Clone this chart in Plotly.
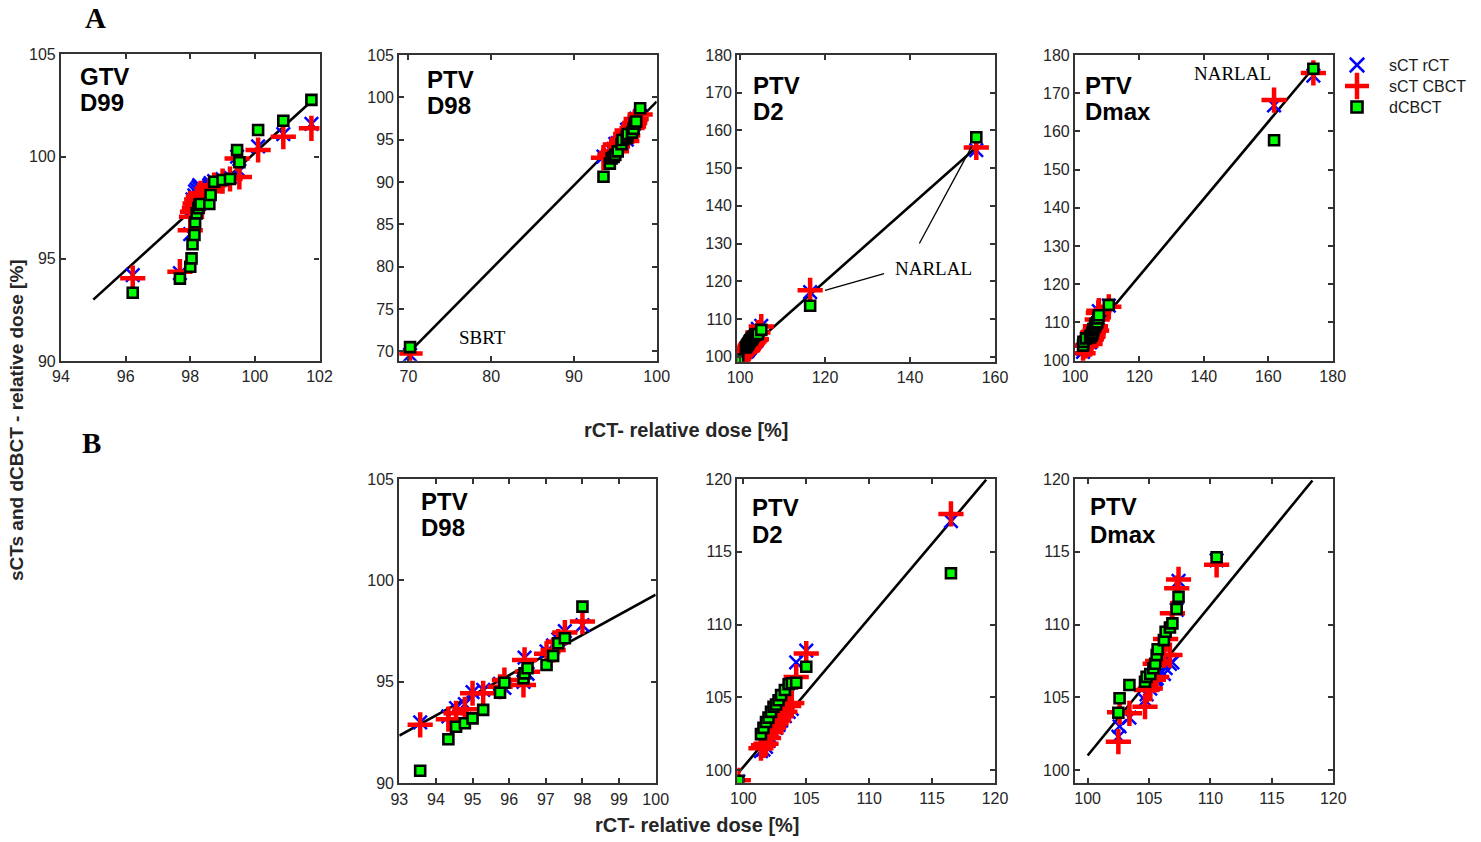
import plotly.graph_objects as go

W, H = 1481, 842


def fx(px):
    """Page x pixel -> paper fraction."""
    return px / W


def fy(py):
    """Page y pixel (from top) -> paper fraction."""
    return 1 - py / H


# ---------------- data ----------------
# GTV D99: rCT dose (x) and the three comparison doses (y)
d99_rct = [96.22, 97.68, 98.0, 98.04, 98.07, 98.13, 98.15, 98.2, 98.25, 98.28, 98.32,
           98.59, 98.63, 98.74, 99.0, 99.23, 99.52, 99.45, 100.1, 100.88, 101.75]
d99_sct_rct = [94.2, 94.3, 96.2, 97.4, 97.9, 98.1, 98.3, 98.4, 98.5, 98.6, 98.5,
               98.6, 98.7, 98.8, 98.9, 99.0, 99.3, 100.0, 100.5, 101.1, 101.6]
d99_sct_cbct = [94.05, 94.37, 96.4, 97.06, 97.3, 97.5, 97.7, 97.9, 98.0, 98.1, 98.2,
                98.3, 98.4, 98.6, 98.8, 98.9, 99.0, 99.9, 100.32, 100.97, 101.38]
d99_dcbct = [93.34, 94.03, 94.61, 95.02, 95.71, 96.16, 96.78, 97.22, 97.47, 97.63, 97.68,
             97.68, 98.12, 98.77, 98.85, 98.9, 99.72, 100.32, 101.3, 101.75, 102.77]
d99_fit_x = [95.0, 101.75]
d99_fit_y = [93.0, 102.7]

# PTV D98 (conventional patients)
d98_rct = [93.57, 94.34, 94.55, 94.79, 95.0, 95.29, 95.75, 95.87, 96.39, 96.42, 96.5,
           97.02, 97.2, 97.34, 97.52, 98.0]
d98_sct_rct = [93.0, 93.3, 93.7, 93.9, 94.5, 94.6, 94.9, 94.7, 95.0, 96.2, 95.4,
               96.5, 96.8, 97.1, 97.5, 97.8]
d98_sct_cbct = [92.88, 93.16, 93.45, 93.65, 94.44, 94.44, 94.76, 95.09, 94.85, 96.08, 95.5,
                96.38, 96.57, 96.98, 97.43, 97.97]
d98_dcbct = [90.62, 92.17, 92.79, 92.96, 93.2, 93.62, 94.47, 94.96, 95.18, 95.42, 95.67,
             95.83, 96.28, 96.9, 97.15, 98.71]
# SBRT patient
sbrt_rct = [70.2]
sbrt_sct_rct = [69.6]
sbrt_sct_cbct = [69.75]
sbrt_dcbct = [70.5]
d98_all_fit_x = [70.0, 100.0]
d98_all_fit_y = [69.8, 99.5]
d98_fit_x = [93.0, 100.0]
d98_fit_y = [92.35, 99.3]

# PTV D2
d2_rct = [99.6, 101.4, 101.6, 101.8, 102.0, 102.2, 102.4, 102.6, 102.8, 103.0, 103.3,
          103.6, 103.85, 104.2, 105.0, 116.5]
d2_sct_rct = [99.2, 101.3, 101.4, 101.6, 102.0, 102.2, 102.6, 102.9, 103.1, 103.4, 103.7,
              104.0, 104.2, 107.4, 108.2, 117.1]
d2_sct_cbct = [99.3, 101.5, 101.7, 101.8, 102.2, 102.6, 102.9, 103.2, 103.4, 103.7, 104.0,
               104.4, 104.6, 106.4, 108.0, 117.6]
d2_dcbct = [99.26, 102.47, 102.9, 103.3, 103.6, 104.0, 104.35, 104.5, 104.8, 105.15, 105.5,
            105.9, 105.96, 106.0, 107.1, 113.52]
# NARLAL patient
d2_narlal_rct = [155.6]
d2_narlal_sct_rct = [154.8]
d2_narlal_sct_cbct = [155.5]
d2_narlal_dcbct = [158.2]
d2_all_fit_x = [100.0, 155.5]
d2_all_fit_y = [100.0, 155.4]
d2_fit_x = [99.6, 119.3]
d2_fit_y = [99.8, 119.95]

# PTV Dmax
dmax_rct = [102.5, 102.6, 103.4, 104.67, 104.8, 105.1, 105.35, 105.5, 105.62, 105.7,
            106.21, 106.35, 106.7, 106.9, 107.25, 107.4, 110.5]
dmax_sct_rct = [102.3, 103.0, 103.6, 104.8, 105.2, 105.6, 105.9, 106.2, 106.3, 106.6,
                106.6, 107.0, 107.3, 107.4, 111.0, 113.0, 114.4]
dmax_sct_cbct = [101.95, 103.97, 103.9, 104.35, 105.5, 105.6, 106.2, 107.3, 106.4, 107.5,
                 107.9, 109.0, 107.9, 110.77, 112.5, 113.1, 114.1]
dmax_dcbct = [103.94, 104.93, 105.84, 106.07, 106.4, 106.6, 106.99, 107.3, 107.9, 108.3,
              108.93, 109.5, 109.8, 110.08, 111.07, 111.9, 114.62]
# NARLAL patients
dmax_narlal_rct = [161.8, 174.0]
dmax_narlal_sct_rct = [166.8, 174.6]
dmax_narlal_sct_cbct = [168.2, 175.3]
dmax_narlal_dcbct = [157.7, 176.4]
dmax_all_fit_x = [102.5, 173.6]
dmax_all_fit_y = [104.6, 176.2]
dmax_fit_x = [100.0, 118.3]
dmax_fit_y = [101.0, 119.9]

series_names = ["sCT rCT", "sCT CBCT", "dCBCT"]
legend_rows = [0, 1, 2]

# ---------------- panels ----------------
# (x, [y series], fit x, fit y, x range, y range, x ticks, y ticks, box px (l, r, t, b), label lines)
panels = [
    (d99_rct, [d99_sct_rct, d99_sct_cbct, d99_dcbct], d99_fit_x, d99_fit_y,
     [94, 102], [90, 105], [94, 96, 98, 100, 102], [90, 95, 100, 105],
     (61, 319.5, 54.3, 361), ("GTV", "D99")),
    (d98_rct + sbrt_rct, [d98_sct_rct + sbrt_sct_rct, d98_sct_cbct + sbrt_sct_cbct, d98_dcbct + sbrt_dcbct],
     d98_all_fit_x, d98_all_fit_y,
     [68.9, 100], [68.9, 105], [70, 80, 90, 100], [70, 75, 80, 85, 90, 95, 100, 105],
     (399.3, 656.7, 55, 360.7), ("PTV", "D98")),
    (d2_rct + d2_narlal_rct, [d2_sct_rct + d2_narlal_sct_rct, d2_sct_cbct + d2_narlal_sct_cbct, d2_dcbct + d2_narlal_dcbct],
     d2_all_fit_x, d2_all_fit_y,
     [99.36, 160], [98.67, 180], [100, 120, 140, 160], list(range(100, 181, 10)),
     (737.3, 995, 55, 361.7), ("PTV", "D2")),
    (dmax_rct + dmax_narlal_rct, [dmax_sct_rct + dmax_narlal_sct_rct, dmax_sct_cbct + dmax_narlal_sct_cbct, dmax_dcbct + dmax_narlal_dcbct],
     dmax_all_fit_x, dmax_all_fit_y,
     [100, 180], [100, 180], [100, 120, 140, 160, 180], list(range(100, 181, 10)),
     (1075, 1332.7, 55, 360.7), ("PTV", "Dmax")),
    (d98_rct, [d98_sct_rct, d98_sct_cbct, d98_dcbct], d98_fit_x, d98_fit_y,
     [93, 100], [90, 105], list(range(93, 101)), [90, 95, 100, 105],
     (399.3, 655.7, 479, 783.3), ("PTV", "D98")),
    (d2_rct, [d2_sct_rct, d2_sct_cbct, d2_dcbct], d2_fit_x, d2_fit_y,
     [99.52, 120], [99.13, 120], [100, 105, 110, 115, 120], [100, 105, 110, 115, 120],
     (737.3, 995, 479, 782.7), ("PTV", "D2")),
    (dmax_rct, [dmax_sct_rct, dmax_sct_cbct, dmax_dcbct], dmax_fit_x, dmax_fit_y,
     [98.97, 120], [99.13, 120], [100, 105, 110, 115, 120], [100, 105, 110, 115, 120],
     (1075, 1333.3, 479, 782.7), ("PTV", "Dmax")),
]

marker_styles = [
    dict(symbol="x-thin", size=13.5, color="#0000ff", line=dict(color="#0000ff", width=2.5)),
    dict(symbol="cross-thin", size=18, color="#ff0000", line=dict(color="#ff0000", width=4.5)),
    dict(symbol="square", size=10, color="#00ff00", line=dict(color="#000000", width=2.6)),
]

SANS = "Helvetica, Arial, Liberation Sans"
SERIF = "Times New Roman, Liberation Serif, serif"
TICK_FONT = dict(family=SANS, size=16, color="#262626")
LABEL_FONT = dict(family=SANS, size=24, color="#000000")

fig = go.Figure()
layout = dict(
    width=W, height=H, margin=dict(l=0, r=0, t=0, b=0, autoexpand=False),
    paper_bgcolor="white", plot_bgcolor="white",
    showlegend=False,
)
annotations = []
shapes = []

ax_common = dict(showline=True, linecolor="#333333", linewidth=2.2, mirror="ticks",
                 ticks="inside", ticklen=5, tickwidth=1.6, tickcolor="#333333",
                 showgrid=False, zeroline=False, tickfont=TICK_FONT, fixedrange=True,
                 automargin=False)

for i, (xs, ys_list, fit_x, fit_y, xr, yr, xt, yt, box, label) in enumerate(panels, start=1):
    xa = "x" if i == 1 else f"x{i}"
    ya = "y" if i == 1 else f"y{i}"
    fig.add_trace(go.Scatter(x=fit_x, y=fit_y, mode="lines", line=dict(color="black", width=2.6),
                             xaxis=xa, yaxis=ya, hoverinfo="skip"))
    for k, (ys, ms) in enumerate(zip(ys_list, marker_styles)):
        fig.add_trace(go.Scatter(x=xs, y=ys, mode="markers", marker=ms, name=series_names[k],
                                 xaxis=xa, yaxis=ya))
    l, r, t, b = box
    layout["xaxis" if i == 1 else f"xaxis{i}"] = dict(
        ax_common, domain=[fx(l), fx(r)], range=xr, tickvals=xt, anchor=ya)
    layout["yaxis" if i == 1 else f"yaxis{i}"] = dict(
        ax_common, domain=[fy(b), fy(t)], range=yr, tickvals=yt, anchor=xa)

# ---------------- legend (keys on a hidden axis, labels as text) ----------------
for row, name, ms in zip(legend_rows, series_names, marker_styles):
    fig.add_trace(go.Scatter(x=[0], y=[row], mode="markers",
                             marker=dict(ms, size=ms["size"] + 1), xaxis="x8", yaxis="y8",
                             hoverinfo="skip"))
    annotations.append(dict(x=fx(1387), y=row, xref="paper", yref="y8", text=name,
                            showarrow=False, xanchor="left", yanchor="middle",
                            font=dict(family=SANS, size=16, color="#1a1a1a")))
hidden = dict(visible=False, showgrid=False, zeroline=False, fixedrange=True)
layout["xaxis8"] = dict(hidden, domain=[fx(1345), fx(1369)], range=[-1, 1], anchor="y8")
layout["yaxis8"] = dict(hidden, domain=[fy(117.5), fy(54.5)], range=[2.5, -0.5], anchor="x8")

# panel labels inside the boxes: (left px, first-line centre px, second-line centre px)
label_pos = [(77.5, 77, 103), (425, 80, 106), (750.5, 85, 111.5), (1082.5, 85, 111),
             (419, 501.5, 527), (750, 507, 534), (1088, 506, 534)]
for (lx, y1, y2), p in zip(label_pos, panels):
    for text, yy in zip(p[-1], (y1, y2)):
        annotations.append(dict(x=fx(lx), y=fy(yy), xref="paper", yref="paper",
                                text=f"<b>{text}</b>", showarrow=False, xanchor="left",
                                yanchor="middle", font=LABEL_FONT))

# section letters
for txt, px, py in (("A", 95, 18), ("B", 91, 443)):
    annotations.append(dict(x=fx(px), y=fy(py), xref="paper", yref="paper",
                            text=f"<b>{txt}</b>", showarrow=False, xanchor="center",
                            yanchor="middle", font=dict(family=SERIF, size=29, color="black")))

# axis titles
title_font = dict(family=SANS, size=20, color="#262626")
for px, py in ((686, 430), (697, 825)):
    annotations.append(dict(x=fx(px), y=fy(py), xref="paper", yref="paper",
                            text="<b>rCT- relative dose [%]</b>", showarrow=False,
                            xanchor="center", yanchor="middle", font=title_font))
annotations.append(dict(x=fx(16), y=fy(420), xref="paper", yref="paper",
                        text="<b>sCTs and dCBCT - relative dose [%]</b>", showarrow=False,
                        textangle=-90, xanchor="center", yanchor="middle",
                        font=dict(title_font, size=19)))

# in-panel notes
note_font = dict(family=SERIF, size=19, color="black")
annotations.append(dict(x=78.9, y=71.6, xref="x2", yref="y2", text="SBRT", showarrow=False,
                        xanchor="center", yanchor="middle", font=note_font))
annotations.append(dict(x=145.5, y=123.5, xref="x3", yref="y3", text="NARLAL", showarrow=False,
                        xanchor="center", yanchor="middle", font=note_font))
annotations.append(dict(x=148.8, y=175.2, xref="x4", yref="y4", text="NARLAL", showarrow=False,
                        xanchor="center", yanchor="middle", font=note_font))
for x0, y0, x1, y1 in ((120.0, 117.6, 133.9, 122.0), (142.2, 130.0, 154.5, 155.7)):
    shapes.append(dict(type="line", xref="x3", yref="y3", x0=x0, y0=y0, x1=x1, y1=y1,
                       line=dict(color="black", width=1.3)))

layout["annotations"] = annotations
layout["shapes"] = shapes
fig.update_layout(**layout)

# the figure fills the whole window: drop the page's default body margin and scrollbars
fig.write_html(
    "out.html",
    post_script="document.body.style.margin='0';document.body.style.overflow='hidden';",
)
